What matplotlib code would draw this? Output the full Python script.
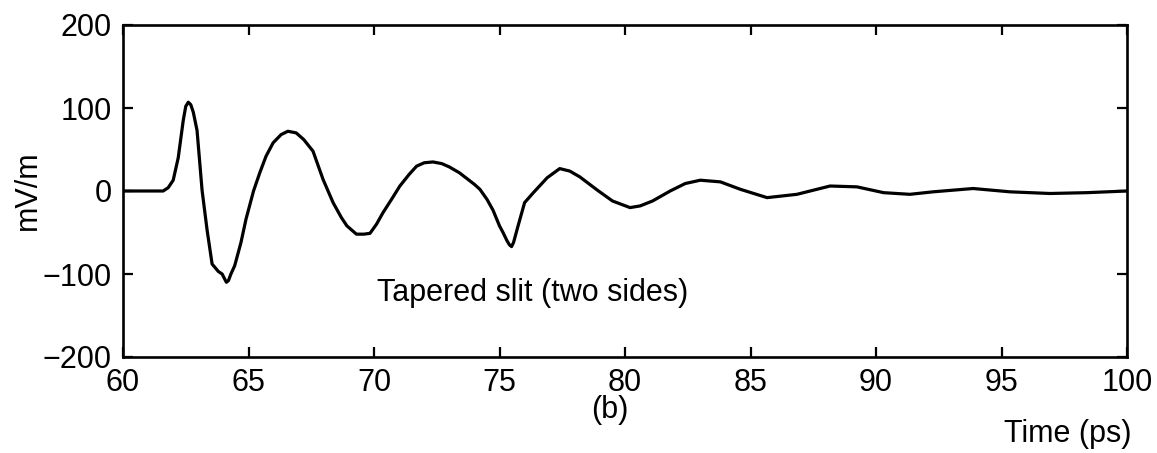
import matplotlib
matplotlib.use("Agg")
import matplotlib.pyplot as plt

plt.rcParams['font.family'] = ['Liberation Sans', 'DejaVu Sans']

# Time (ps)
time_ps = [60, 61.0, 61.6, 61.8, 62.0, 62.2, 62.4, 62.5, 62.6, 62.7, 62.8, 62.95,
           63.15, 63.35, 63.55, 63.8, 63.95, 64.05, 64.12, 64.2, 64.3, 64.45, 64.7,
           64.9, 65.2, 65.45, 65.7, 65.98, 66.3, 66.57, 66.9, 67.2, 67.57, 67.97,
           68.37, 68.7, 68.92, 69.3, 69.6, 69.84, 70.1, 70.36, 70.7, 71.03, 71.4,
           71.7, 72.0, 72.35, 72.7, 73.0, 73.4, 73.7, 74.0, 74.22, 74.5, 74.74,
           75.0, 75.14, 75.3, 75.4, 75.48, 75.56, 75.65, 75.74, 76.0, 76.35, 76.9,
           77.4, 77.8, 78.2, 78.9, 79.5, 80.2, 80.6, 81.1, 81.8, 82.4, 83.0, 83.8,
           84.6, 85.66, 86.85, 88.17, 89.24, 90.3, 91.35, 92.27, 93.87, 95.34,
           96.93, 98.4, 100]
# Field (mV/m)
field_mvm = [0, 0, 0, 4, 13, 40, 85, 102, 107, 104, 95, 73,
             1, -47, -88, -97, -100, -106, -110, -108, -100, -90, -62,
             -34, 0, 22, 42, 58, 68, 72, 70, 62, 48, 14,
             -14, -32, -42, -52, -52, -51, -40, -26, -10, 6, 20,
             30, 34, 35, 33, 29, 22, 15, 8, 2, -10, -23,
             -42, -50, -60, -65, -67, -62, -52, -42, -14, -2, 16,
             27, 24, 17, 1, -12, -20, -18, -12, 0, 9, 13, 11,
             2, -8, -4, 6, 5, -2, -4, -1, 3, -1,
             -3, -2, 0]

x_ticks = [60, 65, 70, 75, 80, 85, 90, 95, 100]
y_ticks = [-200, -100, 0, 100, 200]
y_tick_labels = ['\u2212200', '\u2212100', '0', '100', '200']

W, H = 1157, 453
fig = plt.figure(figsize=(W / 100, H / 100), dpi=100)
ax = fig.add_axes([123 / W, 1 - 357 / H, (1127 - 123) / W, (357 - 25) / H])

ax.plot(time_ps, field_mvm, color='black', lw=2.3, solid_joinstyle='round',
        solid_capstyle='round')

ax.set_xlim(60, 100)
ax.set_ylim(-200, 200)
ax.set_xticks(x_ticks)
ax.set_yticks(y_ticks)
ax.set_yticklabels(y_tick_labels)
ax.tick_params(direction='in', length=7, width=1.6, top=True, right=True,
               labelsize=22)
ax.tick_params(axis='x', pad=8)
ax.tick_params(axis='y', pad=8)
for s in ax.spines.values():
    s.set_linewidth(1.9)

ax.text(70.1, -133, 'Tapered slit (two sides)', fontsize=22, va='baseline', ha='left')

fig.text(610 / W, 1 - 410 / H, '(b)', fontsize=22, ha='center', va='center')
fig.text(1068 / W, 1 - 434 / H, 'Time (ps)', fontsize=22, ha='center', va='center')
fig.text(28 / W, 1 - 190 / H, 'mV/m', fontsize=22, ha='center', va='center', rotation=90)

fig.savefig('out.png', dpi=100)
